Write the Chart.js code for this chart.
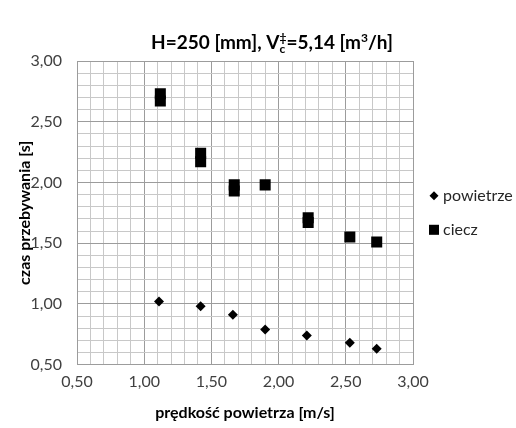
<!DOCTYPE html>
<html><head><meta charset="utf-8">
<script src="https://cdn.jsdelivr.net/npm/chart.js@4"></script>
<style>html,body{margin:0;padding:0;background:#fff}#w{width:516px;height:428px}</style>
</head><body><div id="w"><canvas id="c"></canvas></div>
<script>
const powietrzeX = [1.11, 1.42, 1.66, 1.90, 2.21, 2.53, 2.73];
const powietrzeY = [1.02, 0.98, 0.91, 0.79, 0.74, 0.68, 0.63];
const cieczX = [1.12, 1.12, 1.42, 1.42, 1.67, 1.67, 1.90, 2.22, 2.22, 2.53, 2.73];
const cieczY = [2.73, 2.67, 2.24, 2.17, 1.98, 1.93, 1.98, 1.71, 1.67, 1.55, 1.51];
const seriesNames = ['powietrze', 'ciecz'];
const xTitle = 'prędkość powietrza [m/s]';
const yTitle = 'czas przebywania [s]';
const axisMin = 0.5, axisMax = 3.0, minorStep = 0.1, majorStep = 0.5;

const FONT = 'Lato, "Open Sans", sans-serif';
const isMajor = v => Math.abs(v / majorStep - Math.round(v / majorStep)) < 1e-6;
const fmt = v => isMajor(v) ? v.toFixed(2).replace('.', ',') : '';
const gridColor = ctx => (ctx.tick && isMajor(ctx.tick.value)) ? '#9c9c9c' : '#c8c8c8';

const titlePlugin = {
  id: 'richTitle',
  afterDraw(chart) {
    const ctx = chart.ctx;
    const parts = [
      {t: 'H=250 [mm], V', s: 19, dy: 0},
      {t: '‡', s: 12, dy: -7},
      {t: 'c', s: 12, dy: 4, back: true},
      {t: '=5,14 [m', s: 19, dy: 0},
      {t: '3', s: 12, dy: -7},
      {t: '/h]', s: 19, dy: 0}
    ];
    ctx.save();
    ctx.fillStyle = '#000';
    ctx.textBaseline = 'alphabetic';
    const widths = parts.map(p => { ctx.font = 'bold ' + p.s + 'px ' + FONT; return ctx.measureText(p.t).width; });
    let total = 0;
    parts.forEach((p, i) => { total += p.back ? Math.max(0, widths[i] - widths[i-1]) : widths[i]; });
    let x = chart.width / 2 + 14 - total / 2;
    const y = 49;
    parts.forEach((p, i) => {
      ctx.font = 'bold ' + p.s + 'px ' + FONT;
      if (p.back) { x -= widths[i-1]; ctx.fillText(p.t, x, y + p.dy); x += Math.max(widths[i], widths[i-1]); }
      else { ctx.fillText(p.t, x, y + p.dy); x += widths[i]; }
    });
    ctx.restore();
  }
};

const legendPlugin = {
  id: 'sideLegend',
  afterDraw(chart) {
    const ctx = chart.ctx;
    const area = chart.chartArea;
    const midY = (area.top + area.bottom) / 2;
    const gap = 34;
    const radii = [4.5, 7.1];
    ctx.save();
    chart.data.datasets.forEach((ds, i) => {
      const y = midY + (i - (chart.data.datasets.length - 1) / 2) * gap;
      const mx = area.right + 21;
      ctx.fillStyle = '#000';
      Chart.helpers.drawPoint(ctx, { pointStyle: ds.pointStyle, rotation: 0, borderWidth: 0, radius: radii[i] }, mx, y);
      ctx.fillStyle = '#262626';
      ctx.font = '16px ' + FONT;
      ctx.textBaseline = 'middle';
      ctx.textAlign = 'left';
      ctx.fillText(ds.label, mx + 9, y);
    });
    ctx.restore();
  }
};

new Chart(document.getElementById('c'), {
  type: 'scatter',
  data: {
    datasets: [
      { label: seriesNames[0], data: powietrzeX.map((x, i) => ({x, y: powietrzeY[i]})),
        pointStyle: 'rectRot', pointRadius: 5, pointHoverRadius: 5,
        backgroundColor: '#000', borderColor: '#000', borderWidth: 0 },
      { label: seriesNames[1], data: cieczX.map((x, i) => ({x, y: cieczY[i]})),
        pointStyle: 'rect', pointRadius: 7.8, pointHoverRadius: 7.8,
        backgroundColor: '#000', borderColor: '#000', borderWidth: 0 }
    ]
  },
  options: {
    responsive: true, maintainAspectRatio: false, animation: false,
    layout: { padding: { top: 61, right: 103, left: 10, bottom: 6 } },
    plugins: {
      title: { display: false },
      tooltip: { enabled: false },
      legend: { display: false }
    },
    scales: {
      x: {
        type: 'linear', min: axisMin, max: axisMax,
        ticks: { stepSize: minorStep, autoSkip: false, maxRotation: 0, callback: fmt,
          color: '#404040', font: { family: FONT, size: 16 }, padding: 8 },
        grid: { color: gridColor, drawTicks: false, lineWidth: 1 },
        border: { color: '#9c9c9c' },
        title: { display: true, text: xTitle, color: '#000', font: { family: FONT, size: 16, weight: 'bold' }, padding: { top: 3, bottom: 0 } }
      },
      y: {
        type: 'linear', min: axisMin, max: axisMax,
        afterFit: s => { s.width = 67; },
        ticks: { stepSize: minorStep, autoSkip: false, callback: fmt,
          color: '#404040', font: { family: FONT, size: 16 }, padding: 15 },
        grid: { color: gridColor, drawTicks: false, lineWidth: 1 },
        border: { color: '#9c9c9c' },
        title: { display: true, text: yTitle, color: '#000', font: { family: FONT, size: 16, weight: 'bold' }, padding: { top: 5, bottom: 0 } }
      }
    }
  },
  plugins: [titlePlugin, legendPlugin]
});
</script></body></html>
